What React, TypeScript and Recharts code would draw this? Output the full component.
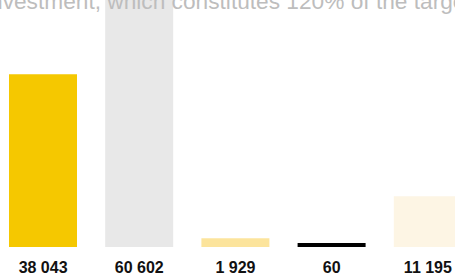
import React from "react"
import { BarChart, Bar, XAxis, YAxis, Cell } from "recharts"

const labels = ["38 043", "60 602", "1 929", "60", "11 195"]
const values = [38043, 60602, 1929, 60, 11195]
const colors = ["#f5c800", "#e8e8e8", "#fce49c", "#000000", "#fdf5e4"]

const data = labels.map((label, i) => ({ label, value: values[i] }))

function Tick(props: any) {
  const { x, payload } = props
  return (
    <text
      x={x}
      y={273}
      textAnchor="middle"
      fontSize={16}
      fontWeight={700}
      fill="#111"
      fontFamily="'Liberation Sans', Arial, sans-serif"
    >
      {payload.value}
    </text>
  )
}

export default function App() {
  return (
    <div
      style={{
        position: "absolute",
        left: 0,
        top: 0,
        width: 455,
        height: 274,
        overflow: "hidden",
        background: "#fff",
      }}
    >
      {/* headline, cut off at the top */}
      <svg
        width={455}
        height={274}
        style={{ position: "absolute", left: 0, top: 0, zIndex: 2, pointerEvents: "none" }}
      >
        <text
          x={-15}
          y={9}
          fontSize={22.7}
          fill="#bdbdbd"
          fontFamily="'Liberation Sans', Arial, sans-serif"
        >
          investment, which constitutes 120% of the target
        </text>
      </svg>
      <div style={{ position: "absolute", left: -5, top: 0 }}>
        <BarChart
          width={481}
          height={274}
          data={data}
          margin={{ top: 0, right: 0, bottom: 0, left: 0 }}
        >
          <XAxis
            dataKey="label"
            axisLine={false}
            tickLine={false}
            height={27}
            interval={0}
            tick={<Tick />}
          />
          <YAxis hide domain={[0, 54400]} allowDataOverflow />
          <Bar dataKey="value" barSize={68} minPointSize={4} isAnimationActive={false}>
            {data.map((d, i) => (
              <Cell key={d.label} fill={colors[i]} />
            ))}
          </Bar>
        </BarChart>
      </div>
    </div>
  )
}
